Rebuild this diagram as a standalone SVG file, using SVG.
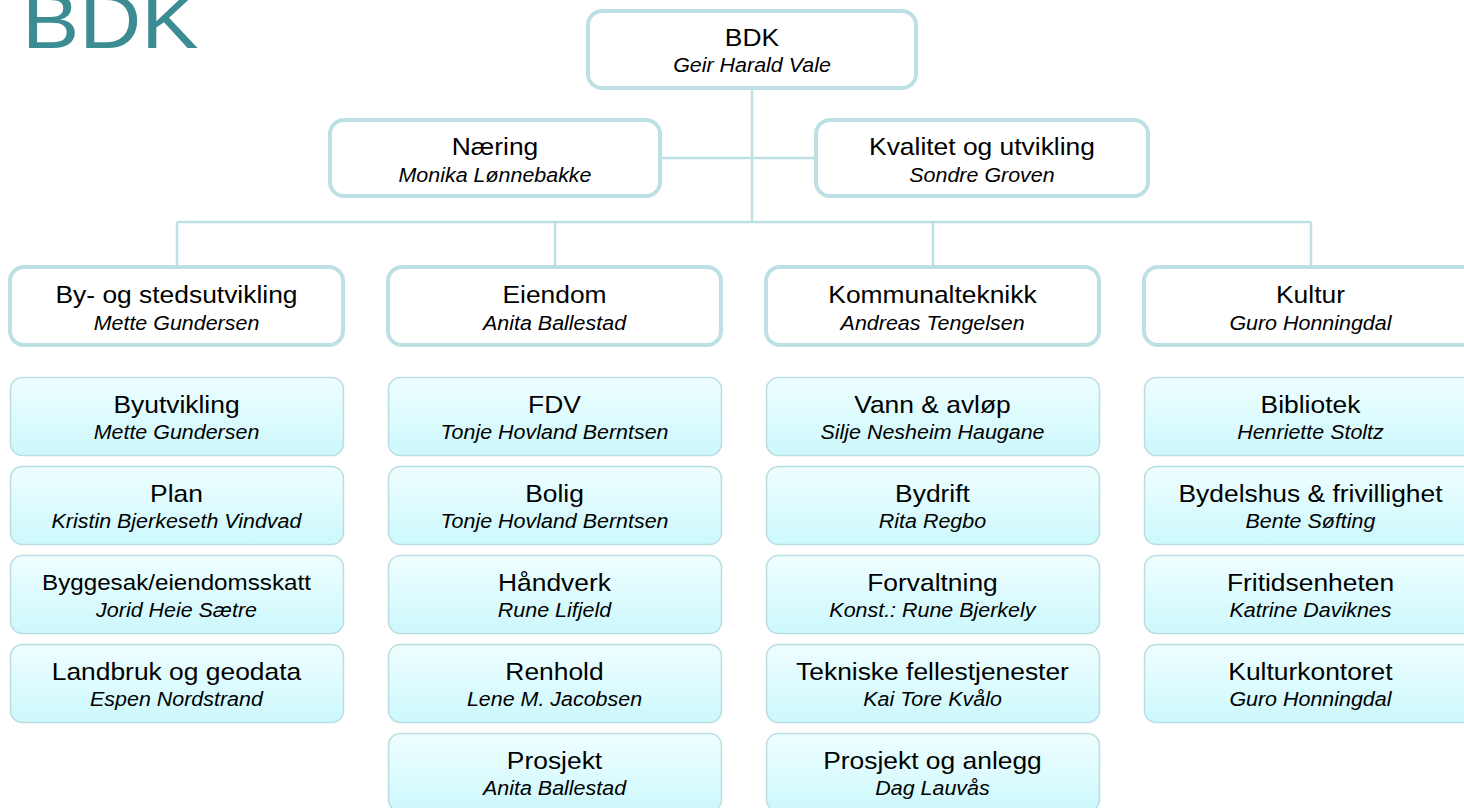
<svg xmlns="http://www.w3.org/2000/svg" width="1464" height="808" viewBox="0 0 1464 808">
<style>
text { font-family: "Liberation Sans", Arial, sans-serif; fill: #000; text-anchor: middle; transform-box: fill-box; transform-origin: center; transform: scaleX(1.1); }
.t { font-size: 24px; }
.ts { font-size: 22px; }
.n { font-size: 19.5px; font-style: italic; }
.head { font-size: 78px; fill: #3B8C93; text-anchor: start; transform-origin: left center; }
.mgr { fill: #FFFFFF; stroke: #BCE0E4; stroke-width: 4; }
.unit { fill: url(#cyan); stroke: #B9DDE1; stroke-width: 1.5; }
.conn line { stroke: #BCE0E4; stroke-width: 2.5; }
</style>
<defs>
<linearGradient id="cyan" x1="0" y1="0" x2="0" y2="1">
<stop offset="0" stop-color="#EFFEFF"/>
<stop offset="1" stop-color="#CCF8FC"/>
</linearGradient>
</defs>
<rect width="1464" height="808" fill="#FFFFFF"/>
<text class="head" x="22" y="48">BDK</text>

<g id="connectors" class="conn">
<line x1="752" y1="88" x2="752" y2="222"/>
<line x1="662" y1="158" x2="814" y2="158"/>
<line x1="177" y1="222" x2="1311" y2="222"/>
<line x1="177" y1="222" x2="177" y2="266"/>
<line x1="555" y1="222" x2="555" y2="266"/>
<line x1="933" y1="222" x2="933" y2="266"/>
<line x1="1311" y1="222" x2="1311" y2="266"/>
</g>

<g id="bdk"><rect class="mgr" x="588" y="11" width="328" height="77" rx="14"/><text class="t" x="752" y="46">BDK</text><text class="n" x="752" y="72">Geir Harald Vale</text></g>
<g id="naering"><rect class="mgr" x="330" y="120" width="330" height="76" rx="14"/><text class="t" x="495" y="155">Næring</text><text class="n" x="495" y="182">Monika Lønnebakke</text></g>
<g id="kvalitet"><rect class="mgr" x="816" y="120" width="332" height="76" rx="14"/><text class="t" x="982" y="155">Kvalitet og utvikling</text><text class="n" x="982" y="182">Sondre Groven</text></g>

<g id="by-og-sted"><rect class="mgr" x="10" y="267" width="333" height="78" rx="14"/><text class="t" x="176.5" y="303">By- og stedsutvikling</text><text class="n" x="176.5" y="330">Mette Gundersen</text></g>
<g id="eiendom"><rect class="mgr" x="388" y="267" width="333" height="78" rx="14"/><text class="t" x="554.5" y="303">Eiendom</text><text class="n" x="554.5" y="330">Anita Ballestad</text></g>
<g id="kommunalteknikk"><rect class="mgr" x="766" y="267" width="333" height="78" rx="14"/><text class="t" x="932.5" y="303">Kommunalteknikk</text><text class="n" x="932.5" y="330">Andreas Tengelsen</text></g>
<g id="kultur"><rect class="mgr" x="1144" y="267" width="333" height="78" rx="14"/><text class="t" x="1310.5" y="303">Kultur</text><text class="n" x="1310.5" y="330">Guro Honningdal</text></g>

<g id="byutvikling"><rect class="unit" x="10.5" y="377.5" width="333" height="78" rx="12"/><text class="t" x="176.5" y="413">Byutvikling</text><text class="n" x="176.5" y="439">Mette Gundersen</text></g>
<g id="plan"><rect class="unit" x="10.5" y="466.5" width="333" height="78" rx="12"/><text class="t" x="176.5" y="502">Plan</text><text class="n" x="176.5" y="528">Kristin Bjerkeseth Vindvad</text></g>
<g id="byggesak"><rect class="unit" x="10.5" y="555.5" width="333" height="78" rx="12"/><text class="ts" x="176.5" y="590">Byggesak/eiendomsskatt</text><text class="n" x="176.5" y="617">Jorid Heie Sætre</text></g>
<g id="landbruk"><rect class="unit" x="10.5" y="644.5" width="333" height="78" rx="12"/><text class="t" x="176.5" y="680">Landbruk og geodata</text><text class="n" x="176.5" y="706">Espen Nordstrand</text></g>

<g id="fdv"><rect class="unit" x="388.5" y="377.5" width="333" height="78" rx="12"/><text class="t" x="554.5" y="413">FDV</text><text class="n" x="554.5" y="439">Tonje Hovland Berntsen</text></g>
<g id="bolig"><rect class="unit" x="388.5" y="466.5" width="333" height="78" rx="12"/><text class="t" x="554.5" y="502">Bolig</text><text class="n" x="554.5" y="528">Tonje Hovland Berntsen</text></g>
<g id="handverk"><rect class="unit" x="388.5" y="555.5" width="333" height="78" rx="12"/><text class="t" x="554.5" y="591">Håndverk</text><text class="n" x="554.5" y="617">Rune Lifjeld</text></g>
<g id="renhold"><rect class="unit" x="388.5" y="644.5" width="333" height="78" rx="12"/><text class="t" x="554.5" y="680">Renhold</text><text class="n" x="554.5" y="706">Lene M. Jacobsen</text></g>
<g id="prosjekt"><rect class="unit" x="388.5" y="733.5" width="333" height="78" rx="12"/><text class="t" x="554.5" y="769">Prosjekt</text><text class="n" x="554.5" y="795">Anita Ballestad</text></g>

<g id="vann"><rect class="unit" x="766.5" y="377.5" width="333" height="78" rx="12"/><text class="t" x="932.5" y="413">Vann &amp; avløp</text><text class="n" x="932.5" y="439">Silje Nesheim Haugane</text></g>
<g id="bydrift"><rect class="unit" x="766.5" y="466.5" width="333" height="78" rx="12"/><text class="t" x="932.5" y="502">Bydrift</text><text class="n" x="932.5" y="528">Rita Regbo</text></g>
<g id="forvaltning"><rect class="unit" x="766.5" y="555.5" width="333" height="78" rx="12"/><text class="t" x="932.5" y="591">Forvaltning</text><text class="n" x="932.5" y="617">Konst.: Rune Bjerkely</text></g>
<g id="tekniske"><rect class="unit" x="766.5" y="644.5" width="333" height="78" rx="12"/><text class="t" x="932.5" y="680">Tekniske fellestjenester</text><text class="n" x="932.5" y="706">Kai Tore Kvålo</text></g>
<g id="prosjekt-anlegg"><rect class="unit" x="766.5" y="733.5" width="333" height="78" rx="12"/><text class="t" x="932.5" y="769">Prosjekt og anlegg</text><text class="n" x="932.5" y="795">Dag Lauvås</text></g>

<g id="bibliotek"><rect class="unit" x="1144.5" y="377.5" width="333" height="78" rx="12"/><text class="t" x="1310.5" y="413">Bibliotek</text><text class="n" x="1310.5" y="439">Henriette Stoltz</text></g>
<g id="bydelshus"><rect class="unit" x="1144.5" y="466.5" width="333" height="78" rx="12"/><text class="t" x="1310.5" y="502">Bydelshus &amp; frivillighet</text><text class="n" x="1310.5" y="528">Bente Søfting</text></g>
<g id="fritid"><rect class="unit" x="1144.5" y="555.5" width="333" height="78" rx="12"/><text class="t" x="1310.5" y="591">Fritidsenheten</text><text class="n" x="1310.5" y="617">Katrine Daviknes</text></g>
<g id="kulturkontoret"><rect class="unit" x="1144.5" y="644.5" width="333" height="78" rx="12"/><text class="t" x="1310.5" y="680">Kulturkontoret</text><text class="n" x="1310.5" y="706">Guro Honningdal</text></g>
</svg>
